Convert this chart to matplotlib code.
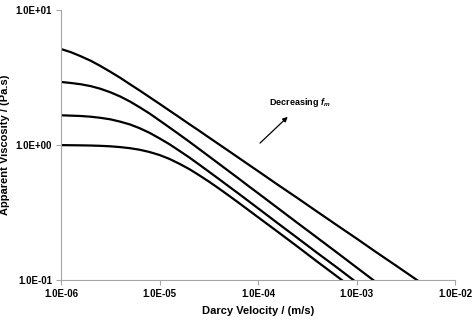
import matplotlib
matplotlib.use("Agg")
import matplotlib.pyplot as plt
from matplotlib.ticker import FixedLocator, FuncFormatter, NullLocator

plt.rcParams["font.family"] = ["Liberation Sans", "DejaVu Sans"]
plt.rcParams["mathtext.fontset"] = "custom"
plt.rcParams["mathtext.it"] = "Liberation Sans:italic:bold"
plt.rcParams["mathtext.rm"] = "Liberation Sans:bold"

# Darcy velocity (m/s): 0.1-decade steps up to 1e-4, then 0.2-decade steps
velocity = [1.0e-6, 1.26e-6, 1.58e-6, 2.0e-6, 2.51e-6, 3.16e-6, 3.98e-6, 5.01e-6, 6.31e-6, 7.94e-6,
            1.0e-5, 1.26e-5, 1.58e-5, 2.0e-5, 2.51e-5, 3.16e-5, 3.98e-5, 5.01e-5, 6.31e-5, 7.94e-5,
            1.0e-4, 1.58e-4, 2.51e-4, 3.98e-4, 6.31e-4,
            1.0e-3, 1.58e-3, 2.51e-3, 3.98e-3, 6.31e-3, 1.0e-2]

# apparent viscosity (Pa.s), one list per curve, top to bottom
visc_1 = [5.14, 4.87, 4.55, 4.21, 3.85, 3.49, 3.15, 2.82, 2.53, 2.26,
          2.02, 1.80, 1.61, 1.43, 1.28, 1.14, 1.016, 0.906, 0.807, 0.719,
          0.641, 0.509, 0.405, 0.321, 0.255,
          0.203, 0.161, 0.128, 0.1016, 0.0807, 0.0641]
visc_2 = [2.93, 2.88, 2.82, 2.73, 2.61, 2.46, 2.29, 2.10, 1.90, 1.71,
          1.52, 1.35, 1.20, 1.06, 0.937, 0.827, 0.729, 0.643, 0.567, 0.499,
          0.440, 0.342, 0.265, 0.206, 0.160,
          0.124, 0.0963, 0.0747, 0.058, 0.045, 0.035]
visc_3 = [1.66, 1.65, 1.64, 1.62, 1.59, 1.55, 1.49, 1.42, 1.33, 1.23,
          1.12, 1.014, 0.909, 0.810, 0.719, 0.636, 0.562, 0.496, 0.438, 0.386,
          0.340, 0.264, 0.205, 0.159, 0.124,
          0.096, 0.0745, 0.058, 0.045, 0.035, 0.027]
visc_4 = [0.998, 0.996, 0.994, 0.991, 0.986, 0.978, 0.965, 0.947, 0.922, 0.887,
          0.843, 0.789, 0.728, 0.664, 0.599, 0.537, 0.478, 0.424, 0.375, 0.331,
          0.292, 0.228, 0.177, 0.137, 0.1066,
          0.0827, 0.064, 0.05, 0.039, 0.030, 0.023]

x_ticks = [1e-6, 1e-5, 1e-4, 1e-3, 1e-2]
y_ticks = [1e-1, 1e0, 1e1]

fig = plt.figure(figsize=(4.75, 3.25), dpi=100)
ax = fig.add_axes([61 / 475, 1 - 280 / 325, 394 / 475, 270 / 325])

for visc in (visc_1, visc_2, visc_3, visc_4):
    ax.plot(velocity, visc, color="black", lw=1.6, solid_joinstyle="round")

ax.set_xscale("log")
ax.set_yscale("log")
ax.set_xlim(1e-6, 1e-2)
ax.set_ylim(1e-1, 1e1)

fmt = FuncFormatter(lambda v, pos: f"{v:.1E}")
ax.xaxis.set_major_locator(FixedLocator(x_ticks))
ax.yaxis.set_major_locator(FixedLocator(y_ticks))
ax.xaxis.set_minor_locator(NullLocator())
ax.yaxis.set_minor_locator(NullLocator())
ax.xaxis.set_major_formatter(fmt)
ax.yaxis.set_major_formatter(fmt)

for side in ("top", "right"):
    ax.spines[side].set_visible(False)
for side in ("left", "bottom"):
    ax.spines[side].set_color("#a6a6a6")
    ax.spines[side].set_linewidth(0.8)
ax.tick_params(which="major", direction="out", length=3.5, width=0.8, color="#a6a6a6",
               labelsize=7, pad=3)
for lab in ax.get_xticklabels() + ax.get_yticklabels():
    lab.set_fontweight("bold")

ax.set_xlabel("Darcy Velocity / (m/s)", fontsize=8, fontweight="bold", labelpad=5)
ax.set_ylabel("Apparent Viscosity / (Pa.s)", fontsize=8, fontweight="bold", labelpad=4)

ax.annotate("", xy=(2.1e-4, 1.67), xytext=(1.0e-4, 1.0),
            arrowprops=dict(arrowstyle="-|>", color="black", lw=0.9, mutation_scale=7))
ax.text(1.29e-4, 2.08, r"Decreasing $f_m$", fontsize=6.5, fontweight="bold",
        ha="left", va="center")

fig.savefig("out.png", dpi=100)
